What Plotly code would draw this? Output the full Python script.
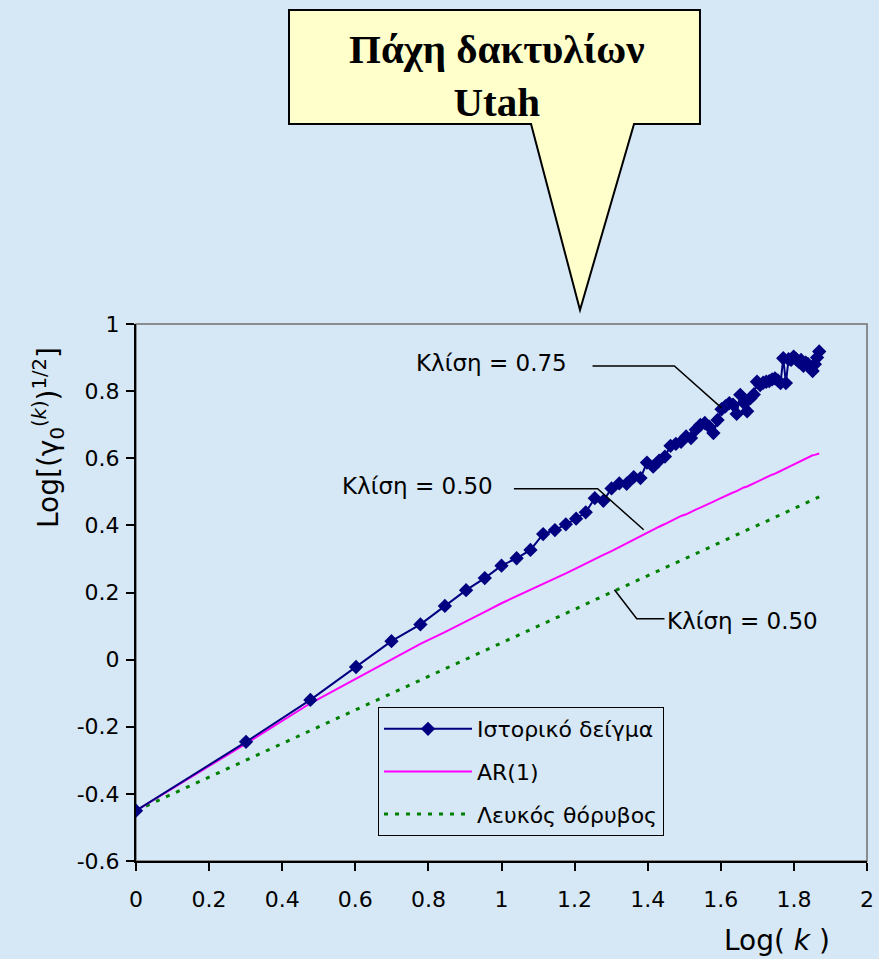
import numpy as np
import plotly.graph_objects as go

# ---- data -------------------------------------------------------------
lag_k = list(range(1, 75))

historical = [
    -0.450, -0.245, -0.120, -0.022, 0.055, 0.105, 0.160, 0.207, 0.243, 0.280,
    0.302, 0.327, 0.374, 0.386, 0.403, 0.420, 0.439, 0.481, 0.473, 0.510,
    0.525, 0.524, 0.544, 0.541, 0.587, 0.575, 0.593, 0.605, 0.637, 0.643,
    0.649, 0.665, 0.660, 0.685, 0.699, 0.705, 0.694, 0.675, 0.714, 0.746,
    0.755, 0.764, 0.760, 0.732, 0.789, 0.765, 0.740, 0.779, 0.790, 0.828,
    0.818, 0.825, 0.828, 0.830, 0.835, 0.838, 0.832, 0.824, 0.898, 0.824,
    0.895, 0.893, 0.903, 0.895, 0.888, 0.893, 0.875, 0.885, 0.880, 0.870,
    0.860, 0.880, 0.900, 0.918,
]

ar1 = [
    -0.450, -0.250, -0.130, -0.056, 0.000, 0.047, 0.082, 0.113, 0.142, 0.168,
    0.189, 0.206, 0.224, 0.241, 0.257, 0.272, 0.287, 0.299, 0.312, 0.323,
    0.335, 0.345, 0.357, 0.367, 0.379, 0.387, 0.396, 0.404, 0.413, 0.420,
    0.428, 0.433, 0.441, 0.447, 0.453, 0.460, 0.466, 0.471, 0.477, 0.483,
    0.487, 0.493, 0.498, 0.502, 0.508, 0.513, 0.516, 0.521, 0.526, 0.530,
    0.535, 0.538, 0.543, 0.547, 0.551, 0.554, 0.559, 0.562, 0.566, 0.570,
    0.574, 0.577, 0.582, 0.585, 0.589, 0.592, 0.596, 0.600, 0.602, 0.606,
    0.609, 0.610, 0.612, 0.614,
]

white_noise = [
    -0.450, -0.300, -0.211, -0.149, -0.101, -0.061, -0.027, 0.002, 0.027, 0.050,
    0.071, 0.090, 0.107, 0.123, 0.138, 0.152, 0.165, 0.178, 0.189, 0.201,
    0.211, 0.221, 0.231, 0.240, 0.249, 0.257, 0.266, 0.274, 0.281, 0.289,
    0.296, 0.303, 0.309, 0.316, 0.322, 0.328, 0.334, 0.340, 0.346, 0.351,
    0.356, 0.362, 0.367, 0.372, 0.377, 0.381, 0.386, 0.391, 0.395, 0.399,
    0.404, 0.408, 0.412, 0.416, 0.420, 0.424, 0.428, 0.432, 0.435, 0.439,
    0.443, 0.446, 0.450, 0.453, 0.456, 0.460, 0.463, 0.466, 0.469, 0.473,
    0.476, 0.479, 0.482, 0.485,
]

x_ticks = [0, 0.2, 0.4, 0.6, 0.8, 1.0, 1.2, 1.4, 1.6, 1.8, 2.0]
x_tick_text = ["0", "0.2", "0.4", "0.6", "0.8", "1", "1.2", "1.4", "1.6", "1.8", "2"]
y_ticks = [-0.6, -0.4, -0.2, 0, 0.2, 0.4, 0.6, 0.8, 1.0]
y_tick_text = ["-0.6", "-0.4", "-0.2", "0", "0.2", "0.4", "0.6", "0.8", "1"]

series_names = ["Ιστορικό δείγμα", "AR(1)", "Λευκός θόρυβος"]
slope_labels = ["Κλίση = 0.75", "Κλίση = 0.50", "Κλίση = 0.50"]

log_k = np.log10(lag_k)

# ---- page geometry ----------------------------------------------------
W, H = 879, 959
ML, MR, MT, MB = 136, 12, 324, 98
PW, PH = W - ML - MR, H - MT - MB


def fx(p):
    """page pixel x -> paper x"""
    return (p - ML) / PW


def fy(p):
    """page pixel y -> paper y"""
    return (H - MB - p) / PH


BG = "rgb(214,231,245)"
FONT = "DejaVu Sans"

fig = go.Figure()

fig.add_trace(go.Scatter(
    x=log_k, y=white_noise, mode="lines", name=series_names[2], legendrank=3,
    legendgroup="c",
    line=dict(color="#008000", width=3, dash="4px,7px"),
))
fig.add_trace(go.Scatter(
    x=log_k, y=ar1, mode="lines", name=series_names[1], legendrank=2,
    legendgroup="b",
    line=dict(color="#FF00FF", width=2),
))
fig.add_trace(go.Scatter(
    x=log_k, y=historical, mode="lines+markers", name=series_names[0], legendrank=1,
    legendgroup="a",
    line=dict(color="#000080", width=2),
    marker=dict(symbol="diamond", size=11, color="#000080"),
))

# slope call-out lines (data coordinates)
leader_lines = [
    [(1.249, 0.875), (1.473, 0.875), (1.602, 0.750)],
    [(1.034, 0.509), (1.263, 0.509), (1.389, 0.387)],
    [(1.309, 0.208), (1.370, 0.122), (1.446, 0.122)],
]
shapes = []
for pts in leader_lines:
    path = "M " + " L ".join(f"{a},{b}" for a, b in pts)
    shapes.append(dict(type="path", xref="x", yref="y", path=path,
                       line=dict(color="black", width=1.5)))

# plot frame (top / right edges in grey)
shapes.append(dict(type="rect", xref="paper", yref="paper", x0=0, x1=1, y0=0, y1=1,
                   line=dict(color="#707070", width=1.5), layer="below"))

# speech-bubble title box
bubble = [(289, 10), (700, 10), (700, 124), (634, 124), (580, 310),
          (531, 124), (289, 124)]
bpath = "M " + " L ".join(f"{fx(a):.4f},{fy(b):.4f}" for a, b in bubble) + " Z"
shapes.append(dict(type="path", xref="paper", yref="paper", path=bpath,
                   fillcolor="#FFFFCC", line=dict(color="black", width=2),
                   layer="above"))

label_font = dict(family=FONT, size=23, color="black")
annotations = [
    dict(x=fx(497), y=fy(75), xref="paper", yref="paper", showarrow=False,
         text="<b>Πάχη δακτυλίων<br>Utah</b>", xanchor="center", yanchor="middle",
         font=dict(family="Liberation Serif", size=41, color="black")),
    dict(x=1.186, y=0.884, xref="x", yref="y", showarrow=False, text=slope_labels[0],
         xanchor="right", yanchor="middle", font=label_font),
    dict(x=0.982, y=0.518, xref="x", yref="y", showarrow=False, text=slope_labels[1],
         xanchor="right", yanchor="middle", font=label_font),
    dict(x=1.446, y=0.116, xref="x", yref="y", showarrow=False, text=slope_labels[2],
         xanchor="left", yanchor="middle", font=label_font),
    dict(x=fx(48), y=fy(438), xref="paper", yref="paper", showarrow=False, textangle=-90,
         text="Log[(γ<sub>0</sub><sup>(<i>k</i>)</sup>)<sup>1/2</sup>]",
         xanchor="center", yanchor="middle", font=dict(family=FONT, size=28, color="black")),
    dict(x=fx(832), y=fy(940), xref="paper", yref="paper", showarrow=False,
         text="Log( <i>k</i> )", xanchor="right", yanchor="middle",
         font=dict(family=FONT, size=28, color="black")),
]

tick_font = dict(family=FONT, size=22, color="black")

fig.update_layout(
    width=W, height=H, autosize=False,
    margin=dict(l=ML, r=MR, t=MT, b=MB, pad=0, autoexpand=False),
    paper_bgcolor=BG, plot_bgcolor=BG,
    font=dict(family=FONT, size=22, color="black"),
    shapes=shapes, annotations=annotations,
    showlegend=True,
    legend=dict(
        x=fx(378), y=fy(707), xanchor="left", yanchor="top",
        bgcolor=BG, bordercolor="black", borderwidth=1,
        font=dict(family=FONT, size=22, color="black"),
        itemwidth=88, tracegroupgap=11, traceorder="grouped",
    ),
    xaxis=dict(
        range=[0, 2], tickvals=x_ticks, ticktext=x_tick_text, tickfont=tick_font,
        ticks="outside", ticklen=8, tickcolor="black", tickwidth=1.5,
        showline=True, linecolor="black", linewidth=2, showgrid=False, zeroline=False,
        ticklabelstandoff=10, automargin=False,
    ),
    yaxis=dict(
        range=[-0.6, 1.0], tickvals=y_ticks, ticktext=y_tick_text, tickfont=tick_font,
        ticks="outside", ticklen=8, tickcolor="black", tickwidth=1.5,
        showline=True, linecolor="black", linewidth=2, showgrid=False, zeroline=False,
        ticklabelstandoff=2, automargin=False,
    ),
)

fig.write_html("out.html")
